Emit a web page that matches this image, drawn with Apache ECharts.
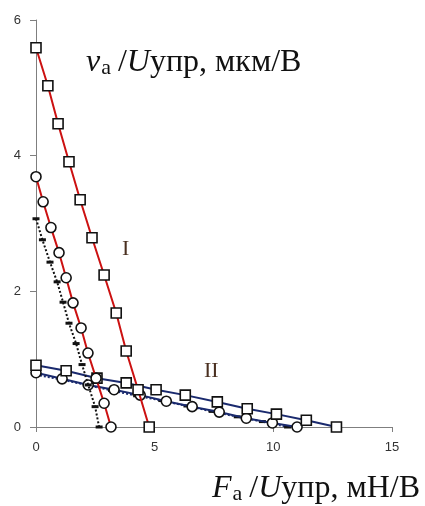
<!DOCTYPE html>
<html><head><meta charset="utf-8">
<script src="https://cdn.jsdelivr.net/npm/echarts@6/dist/echarts.min.js"></script>
<style>html,body{margin:0;padding:0;background:#fff}#c{width:425px;height:506px}</style>
</head><body><div id="c"></div>
<script>
const xTicks = [0, 5, 10, 15];
const yTicks = [0, 2, 4, 6];

const sqI_x = [0, 0.5, 0.93, 1.39, 1.86, 2.36, 2.87, 3.38, 3.8, 4.3, 4.77];
const sqI_y = [5.59, 5.03, 4.47, 3.91, 3.35, 2.79, 2.24, 1.68, 1.12, 0.55, 0];

const circI_x = [0, 0.3, 0.63, 0.97, 1.27, 1.56, 1.9, 2.19, 2.53, 2.87, 3.16];
const circI_y = [3.69, 3.32, 2.94, 2.57, 2.2, 1.83, 1.46, 1.09, 0.72, 0.35, 0];

const dotI_x = [0, 0.27, 0.59, 0.89, 1.14, 1.39, 1.69, 1.94, 2.2, 2.49, 2.66];
const dotI_y = [3.07, 2.76, 2.43, 2.14, 1.84, 1.53, 1.23, 0.92, 0.62, 0.30, 0];

const sqII_x = [0, 1.27, 2.57, 3.8, 5.06, 6.29, 7.64, 8.9, 10.13, 11.39, 12.66];
const sqII_y = [0.91, 0.83, 0.72, 0.65, 0.55, 0.47, 0.37, 0.27, 0.19, 0.10, 0];

const circII_x = [0, 1.1, 2.2, 3.29, 4.39, 5.49, 6.58, 7.72, 8.86, 9.96, 11.0];
const circII_y = [0.80, 0.71, 0.62, 0.55, 0.47, 0.38, 0.30, 0.22, 0.13, 0.06, 0];

const dotII_x = [0, 1.06, 2.12, 3.18, 4.24, 5.3, 6.36, 7.42, 8.48, 9.54, 10.6];
const dotII_y = [0.77, 0.70, 0.62, 0.54, 0.46, 0.39, 0.31, 0.23, 0.15, 0.08, 0];

const zip = (a, b) => a.map((v, i) => [v, b[i]]);
const RED = '#cc1111', BLUE = '#1a2a6e';

const chart = echarts.init(document.getElementById('c'), null, {renderer: 'canvas'});
const serif = '"Liberation Serif","DejaVu Serif",serif';
const sans = '"Liberation Sans",Arial,sans-serif';
const titleRich = {
  i: {fontFamily: serif, fontStyle: 'italic', fontSize: 32, fill: '#111'},
  s: {fontFamily: serif, fontSize: 22, fill: '#111', verticalAlign: 'bottom', padding: [10, 7, 0, 1]},
  n: {fontFamily: serif, fontSize: 32, fill: '#111'}
};
chart.setOption({
  animation: false,
  grid: {left: 36, right: 33, top: 20, bottom: 79},
  xAxis: {type: 'value', min: 0, max: 15, interval: 5,
    axisLine: {show: true, lineStyle: {color: '#7f7f7f', width: 1}},
    axisTick: {show: true, inside: false, length: 5, lineStyle: {color: '#7f7f7f'}},
    axisLabel: {color: '#333', fontSize: 13, fontFamily: sans, margin: 14},
    splitLine: {show: false}},
  yAxis: {type: 'value', min: 0, max: 6, interval: 2,
    axisLine: {show: true, onZero: false, lineStyle: {color: '#7f7f7f', width: 1}},
    axisTick: {show: true, inside: false, length: 6, lineStyle: {color: '#7f7f7f'}},
    axisLabel: {color: '#333', fontSize: 13, fontFamily: sans, margin: 15},
    splitLine: {show: false}},
  graphic: [
    {type: 'text', left: 86, top: 47, z: 100, style: {
      text: '{i|v}{s|а}{n|/}{i|U}{n|упр, мкм/В}', rich: titleRich}},
    {type: 'text', left: 212, top: 473, z: 100, style: {
      text: '{i|F}{s|а}{n|/}{i|U}{n|упр, мН/В}', rich: titleRich}},
    {type: 'text', left: 122, top: 238, z: 100, style: {text: 'I', font: '22px ' + serif, fill: '#4a3020'}},
    {type: 'text', left: 204, top: 360, z: 100, style: {text: 'II', font: '22px ' + serif, fill: '#4a3020'}}
  ],
  series: [
    {type: 'line', data: zip(dotII_x, dotII_y), z: 2, symbol: 'rect', symbolSize: [7, 3],
      itemStyle: {color: '#111'}, lineStyle: {color: BLUE, width: 2, type: 'dotted'}},
    {type: 'line', data: zip(circII_x, circII_y), z: 3, symbol: 'circle', symbolSize: 10,
      itemStyle: {color: '#fff', borderColor: '#111', borderWidth: 1.6}, lineStyle: {color: BLUE, width: 2}},
    {type: 'line', data: zip(sqII_x, sqII_y), z: 3, symbol: 'rect', symbolSize: 10,
      itemStyle: {color: '#fff', borderColor: '#111', borderWidth: 1.6}, lineStyle: {color: BLUE, width: 2}},
    {type: 'line', data: zip(dotI_x, dotI_y), z: 4, symbol: 'rect', symbolSize: [7, 3],
      itemStyle: {color: '#111'}, lineStyle: {color: '#111', width: 2, type: 'dotted'}},
    {type: 'line', data: zip(circI_x, circI_y), z: 5, symbol: 'circle', symbolSize: 10,
      itemStyle: {color: '#fff', borderColor: '#111', borderWidth: 1.6}, lineStyle: {color: RED, width: 2}},
    {type: 'line', data: zip(sqI_x, sqI_y), z: 5, symbol: 'rect', symbolSize: 10,
      itemStyle: {color: '#fff', borderColor: '#111', borderWidth: 1.6}, lineStyle: {color: RED, width: 2}}
  ]
});
</script></body></html>
